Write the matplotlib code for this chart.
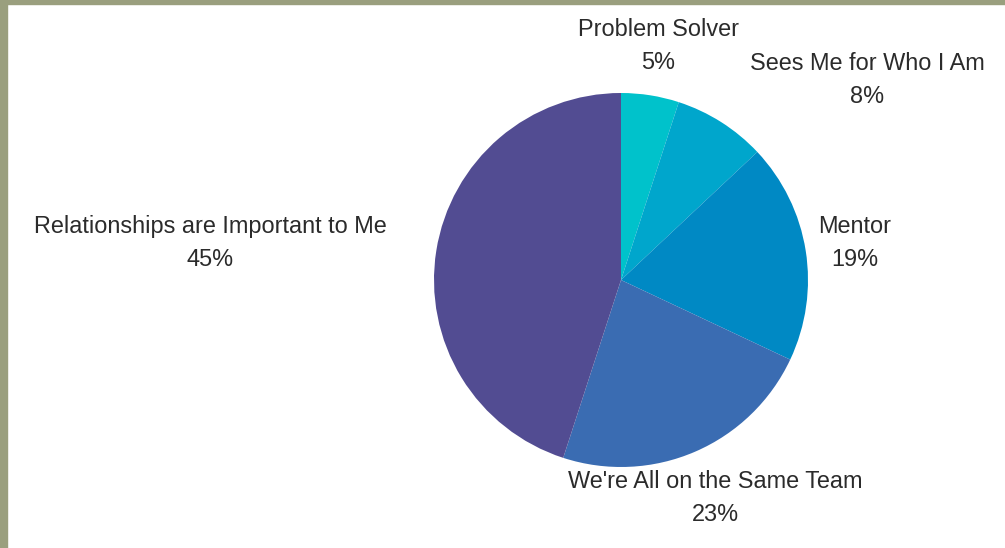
import matplotlib
matplotlib.use("Agg")
import matplotlib.pyplot as plt
from matplotlib.patches import Rectangle

categories = ["Problem Solver", "Sees Me for Who I Am", "Mentor",
              "We're All on the Same Team", "Relationships are Important to Me"]
values = [5, 8, 19, 23, 45]
colors = ["#00c2cb", "#00a6cc", "#0089c4", "#3a6cb2", "#524c92"]

# label block centres in pixels (x, y from top)
label_pos = [(658, 46), (867, 80), (855, 243), (715, 498), (210, 243)]

W, H = 1005, 548
plt.rcParams['font.family'] = ['Liberation Sans', 'DejaVu Sans']

fig = plt.figure(figsize=(W / 100, H / 100), dpi=100)
fig.patch.set_facecolor("white")
ax = fig.add_axes([0, 0, 1, 1])

cx, cy, r = 621, H - 280, 187
ax.pie(values, colors=colors, startangle=90, counterclock=False,
       center=(cx, cy), radius=r, frame=True,
       wedgeprops=dict(linewidth=0))
ax.set_xlim(0, W)
ax.set_ylim(0, H)
ax.set_aspect("equal")
ax.axis("off")

for name, v, (lx, ly) in zip(categories, values, label_pos):
    ax.text(lx, H - ly, f"{name}\n{v}%", ha="center", va="center",
            fontsize=16.9, color="#2b2b2b", linespacing=1.58)

# olive frame on the left and top edges
fig.patches.append(Rectangle((0, 0), 7 / W, 1, transform=fig.transFigure,
                             color="#9a9f7e", zorder=10))
fig.patches.append(Rectangle((0, 1 - 4 / H), 1, 4 / H, transform=fig.transFigure,
                             color="#9a9f7e", zorder=10))

fig.savefig("out.png", dpi=100, facecolor="white")
